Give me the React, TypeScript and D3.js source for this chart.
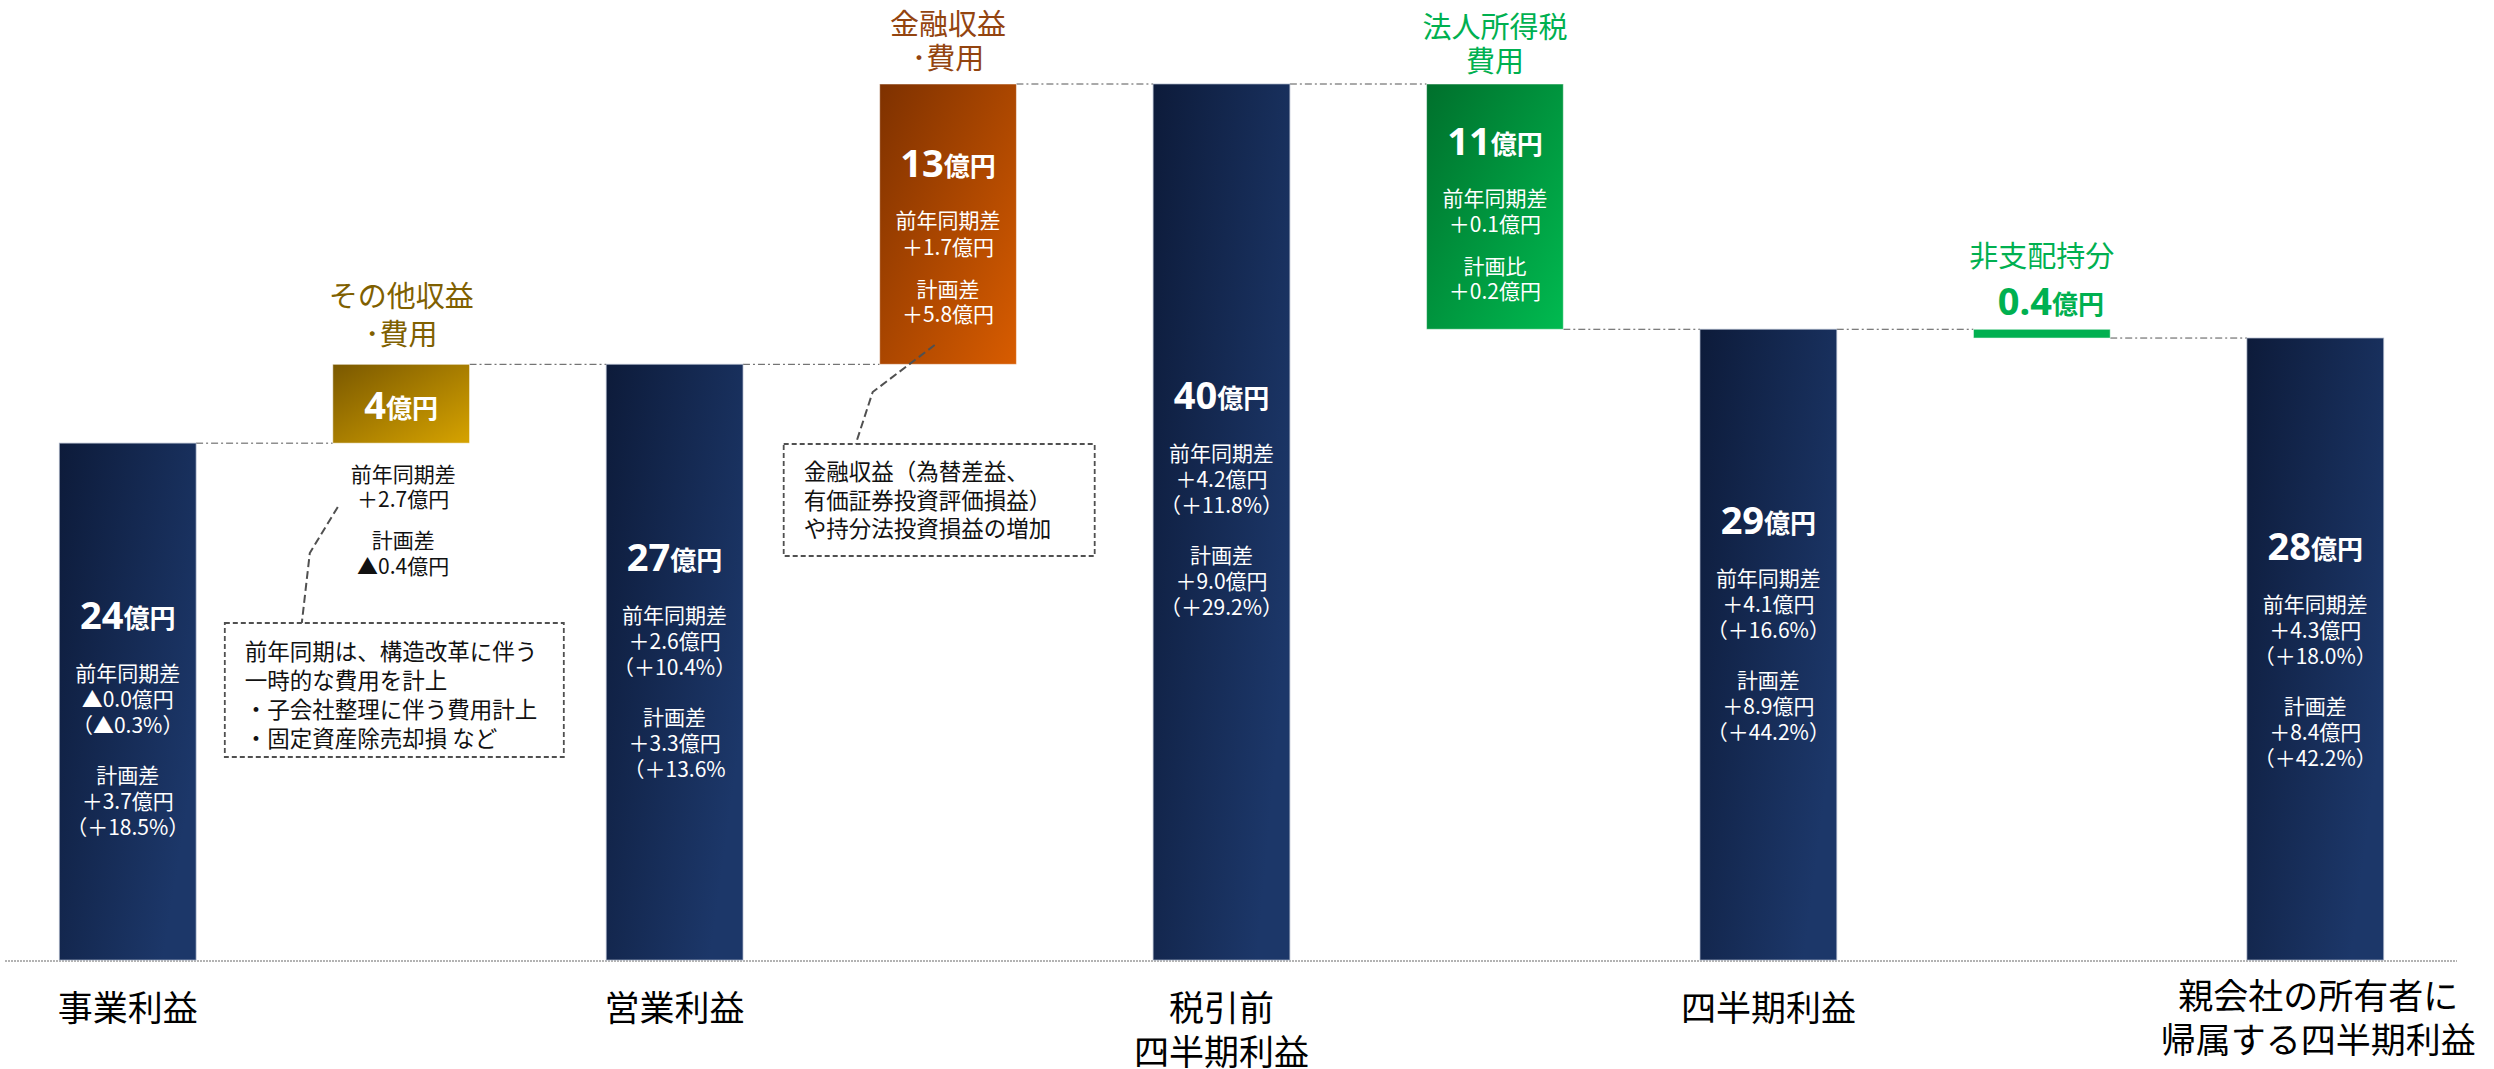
import React, { useEffect } from "react";
import * as d3 from "d3";

// ---------- data ----------
const categories = [
  "事業利益",
  "その他収益・費用",
  "営業利益",
  "金融収益・費用",
  "税引前四半期利益",
  "法人所得税費用",
  "四半期利益",
  "非支配持分",
  "親会社の所有者に帰属する四半期利益",
];
const kinds = ["total", "delta", "total", "delta", "total", "delta", "total", "delta", "total"];
const values = [23.6, 3.6, 27.2, 12.8, 40.0, -11.2, 28.8, -0.4, 28.4];
const valueLabels = ["24", "4", "27", "13", "40", "11", "29", "0.4", "28"];
const unit = "億円";

const axisLabels: string[][] = [
  ["事業利益"],
  [],
  ["営業利益"],
  [],
  ["税引前", "四半期利益"],
  [],
  ["四半期利益"],
  [],
  ["親会社の所有者に", "帰属する四半期利益"],
];
const deltaTitles: string[][] = [
  [],
  ["その他収益", "･費用"],
  [],
  ["金融収益", "･費用"],
  [],
  ["法人所得税", "費用"],
  [],
  ["非支配持分"],
  [],
];
const yoyLines: string[][] = [
  ["前年同期差", "▲0.0億円", "（▲0.3%）"],
  ["前年同期差", "＋2.7億円"],
  ["前年同期差", "＋2.6億円", "（＋10.4%）"],
  ["前年同期差", "＋1.7億円"],
  ["前年同期差", "＋4.2億円", "（＋11.8%）"],
  ["前年同期差", "＋0.1億円"],
  ["前年同期差", "＋4.1億円", "（＋16.6%）"],
  [],
  ["前年同期差", "＋4.3億円", "（＋18.0%）"],
];
const planLines: string[][] = [
  ["計画差", "＋3.7億円", "（＋18.5%）"],
  ["計画差", "▲0.4億円"],
  ["計画差", "＋3.3億円", "（＋13.6%"],
  ["計画差", "＋5.8億円"],
  ["計画差", "＋9.0億円", "（＋29.2%）"],
  ["計画比", "＋0.2億円"],
  ["計画差", "＋8.9億円", "（＋44.2%）"],
  [],
  ["計画差", "＋8.4億円", "（＋42.2%）"],
];
const note1Lines = [
  "前年同期は、構造改革に伴う",
  "一時的な費用を計上",
  "・子会社整理に伴う費用計上",
  "・固定資産除売却損 など",
];
const note2Lines = ["金融収益（為替差益、", "有価証券投資評価損益）", "や持分法投資損益の増加"];

// ---------- style / layout ----------
const W = 2494;
const H = 1069;
const JP = "'Noto Sans CJK JP', 'Noto Sans', sans-serif";
const NUM = "'Noto Sans', 'Noto Sans CJK JP', sans-serif";
const deltaFill: Record<number, string> = { 1: "url(#gGold)", 3: "url(#gOrange)", 5: "url(#gGreen)", 7: "#00B050" };
const titleColor: Record<number, string> = { 1: "#7F6000", 3: "#93440F", 5: "#00B050", 7: "#00B050" };
// main value label offset from bar centre (totals)
const totalLabelOffset: Record<number, number> = { 0: -88, 2: -106, 4: -128, 6: -126, 8: -104 };
const totalLineOffsets = [58, 84, 110, 160, 186, 212];
const axisLabelStart: Record<number, number> = { 0: 1005, 2: 1005, 4: 1005, 6: 1005, 8: 993 };

export default function App() {
  useEffect(() => {
    document.body.style.margin = "0";
    document.body.style.overflow = "hidden";
  }, []);

  const x = d3
    .scaleBand<string>()
    .domain(categories)
    .range([-9, 2452])
    .paddingInner(0.5)
    .paddingOuter(0.25);
  const y = d3.scaleLinear().domain([0, 40]).range([960, 84]);
  const bw = x.bandwidth();

  // waterfall segments
  let running = 0;
  const segs = values.map((v, i) => {
    let start: number, end: number;
    if (kinds[i] === "total") {
      start = 0;
      end = v;
    } else {
      start = running;
      end = running + v;
    }
    running = end;
    const top = y(Math.max(start, end));
    const bottom = y(Math.min(start, end));
    const x0 = x(categories[i]) as number;
    return { i, start, end, top, bottom, x0, cx: x0 + bw / 2 };
  });

  const valueText = (i: number, cx: number, cy: number, color: string) => (
    <text x={cx} y={cy} textAnchor="middle" dominantBaseline="central" fill={color} fontWeight={700}>
      <tspan fontFamily={NUM} fontSize={38}>
        {valueLabels[i]}
      </tspan>
      <tspan fontFamily={JP} fontSize={26} dy={2}>
        {unit}
      </tspan>
    </text>
  );

  const lines = (arr: string[], cx: number, ys: number[], color: string) =>
    arr.map((t, k) => (
      <text
        key={k}
        x={cx}
        y={ys[k]}
        textAnchor="middle"
        dominantBaseline="central"
        fontFamily={JP}
        fontSize={21}
        fill={color}
      >
        {t}
      </text>
    ));

  const gold = segs[1];
  const orange = segs[3];
  const green = segs[5];
  const nci = segs[7];

  return (
    <svg width={W} height={H} style={{ position: "absolute", left: 0, top: 0, display: "block" }}>
      <defs>
        <linearGradient id="gNavy" x1="0" y1="0" x2="1" y2="0.6">
          <stop offset="0" stopColor="#0D1B3A" />
          <stop offset="1" stopColor="#1C3769" />
        </linearGradient>
        <linearGradient id="gGold" x1="0" y1="0" x2="1" y2="1">
          <stop offset="0" stopColor="#7A5800" />
          <stop offset="1" stopColor="#D6A300" />
        </linearGradient>
        <linearGradient id="gOrange" x1="0" y1="0" x2="1" y2="1">
          <stop offset="0" stopColor="#7E3100" />
          <stop offset="1" stopColor="#D85C00" />
        </linearGradient>
        <linearGradient id="gGreen" x1="0" y1="0" x2="1" y2="1">
          <stop offset="0" stopColor="#00702C" />
          <stop offset="1" stopColor="#00BA50" />
        </linearGradient>
      </defs>
      <rect width={W} height={H} fill="#ffffff" />

      {/* baseline */}
      <line x1={5} x2={2457} y1={y(0) + 1} y2={y(0) + 1} stroke="#9a9a9a" strokeWidth={1.5} strokeDasharray="2 1" />

      {/* connectors */}
      {segs.slice(0, -1).map((s, k) => {
        const n = segs[k + 1];
        const yy = y(s.end);
        return (
          <line
            key={k}
            x1={s.x0 + bw}
            x2={n.x0}
            y1={yy}
            y2={yy}
            stroke="#555"
            strokeWidth={1}
            strokeDasharray="7 3 2 3"
          />
        );
      })}

      {/* bars */}
      {segs.map((s) => (
        <rect
          key={s.i}
          x={s.x0}
          y={s.top}
          width={bw}
          height={Math.max(1, s.bottom - s.top)}
          fill={kinds[s.i] === "total" ? "url(#gNavy)" : deltaFill[s.i]}
          stroke={kinds[s.i] === "total" ? "#aab4c8" : "#ffffff"}
          strokeOpacity={kinds[s.i] === "total" ? 0.7 : 0.5}
          strokeWidth={1}
        />
      ))}

      {/* total bar labels */}
      {segs
        .filter((s) => kinds[s.i] === "total")
        .map((s) => {
          const cy = (s.top + s.bottom) / 2 + totalLabelOffset[s.i];
          const arr = [...yoyLines[s.i], ...planLines[s.i]];
          return (
            <g key={s.i}>
              {valueText(s.i, s.cx, cy, "#ffffff")}
              {lines(arr, s.cx, totalLineOffsets.map((o) => cy + o), "#ffffff")}
            </g>
          );
        })}

      {/* gold: other income */}
      <g>
        {valueText(1, gold.cx, (gold.top + gold.bottom) / 2, "#ffffff")}
        {lines(
          [...yoyLines[1], ...planLines[1]],
          gold.cx + 2,
          [30, 55, 96, 122].map((o) => gold.bottom + o),
          "#111111"
        )}
      </g>
      {/* orange: financial */}
      <g>
        {valueText(3, orange.cx, orange.top + 78, "#ffffff")}
        {lines(
          [...yoyLines[3], ...planLines[3]],
          orange.cx,
          [57, 84, 126, 151].map((o) => orange.top + 78 + o),
          "#ffffff"
        )}
      </g>
      {/* green: tax */}
      <g>
        {valueText(5, green.cx, green.top + 56, "#ffffff")}
        {lines(
          [...yoyLines[5], ...planLines[5]],
          green.cx,
          [57, 83, 125, 150].map((o) => green.top + 56 + o),
          "#ffffff"
        )}
      </g>
      {/* NCI */}
      {valueText(7, nci.cx + 9, nci.top - 29, "#00B050")}

      {/* delta titles */}
      {[1, 3, 5, 7].map((i) => {
        const s = segs[i];
        const offs: Record<number, number[]> = { 1: [-70, -32], 3: [-62, -28], 5: [-59, -25], 7: [-75] };
        return deltaTitles[i].map((t, k) => (
          <text
            key={`${i}-${k}`}
            x={s.cx}
            y={s.top + offs[i][k]}
            textAnchor="middle"
            dominantBaseline="central"
            fontFamily={JP}
            fontSize={29}
            fill={titleColor[i]}
          >
            {t}
          </text>
        ));
      })}

      {/* axis labels */}
      {segs.map((s) =>
        axisLabels[s.i].map((t, k) => (
          <text
            key={`${s.i}-${k}`}
            x={s.cx + (s.i === 8 ? 3 : 0)}
            y={axisLabelStart[s.i] + k * 44}
            textAnchor="middle"
            dominantBaseline="central"
            fontFamily={JP}
            fontSize={35}
            fill="#000000"
          >
            {t}
          </text>
        ))
      )}

      {/* note 1 */}
      <g>
        <polyline
          points={`${gold.x0 + 5},507 ${gold.x0 - 23},553 ${gold.x0 - 31},623`}
          fill="none"
          stroke="#505050"
          strokeWidth={2}
          strokeDasharray="8 4"
        />
        <rect
          x={gold.x0 - 108}
          y={623}
          width={339}
          height={134}
          fill="#ffffff"
          stroke="#505050"
          strokeWidth={1.8}
          strokeDasharray="5 3"
        />
        {note1Lines.map((t, k) => (
          <text
            key={k}
            x={gold.x0 - 88}
            y={650 + k * 29}
            dominantBaseline="central"
            fontFamily={JP}
            fontSize={22.5}
            fill="#111111"
          >
            {t}
          </text>
        ))}
      </g>

      {/* note 2 */}
      <g>
        <polyline
          points={`${orange.x0 + 55},345 ${orange.x0 - 7},392 ${orange.x0 - 24},444`}
          fill="none"
          stroke="#505050"
          strokeWidth={2}
          strokeDasharray="8 4"
        />
        <rect
          x={orange.x0 - 96}
          y={444}
          width={311}
          height={112}
          fill="#ffffff"
          stroke="#505050"
          strokeWidth={1.8}
          strokeDasharray="5 3"
        />
        {note2Lines.map((t, k) => (
          <text
            key={k}
            x={orange.x0 - 76}
            y={470 + k * 28.5}
            dominantBaseline="central"
            fontFamily={JP}
            fontSize={22.5}
            fill="#111111"
          >
            {t}
          </text>
        ))}
      </g>
    </svg>
  );
}
